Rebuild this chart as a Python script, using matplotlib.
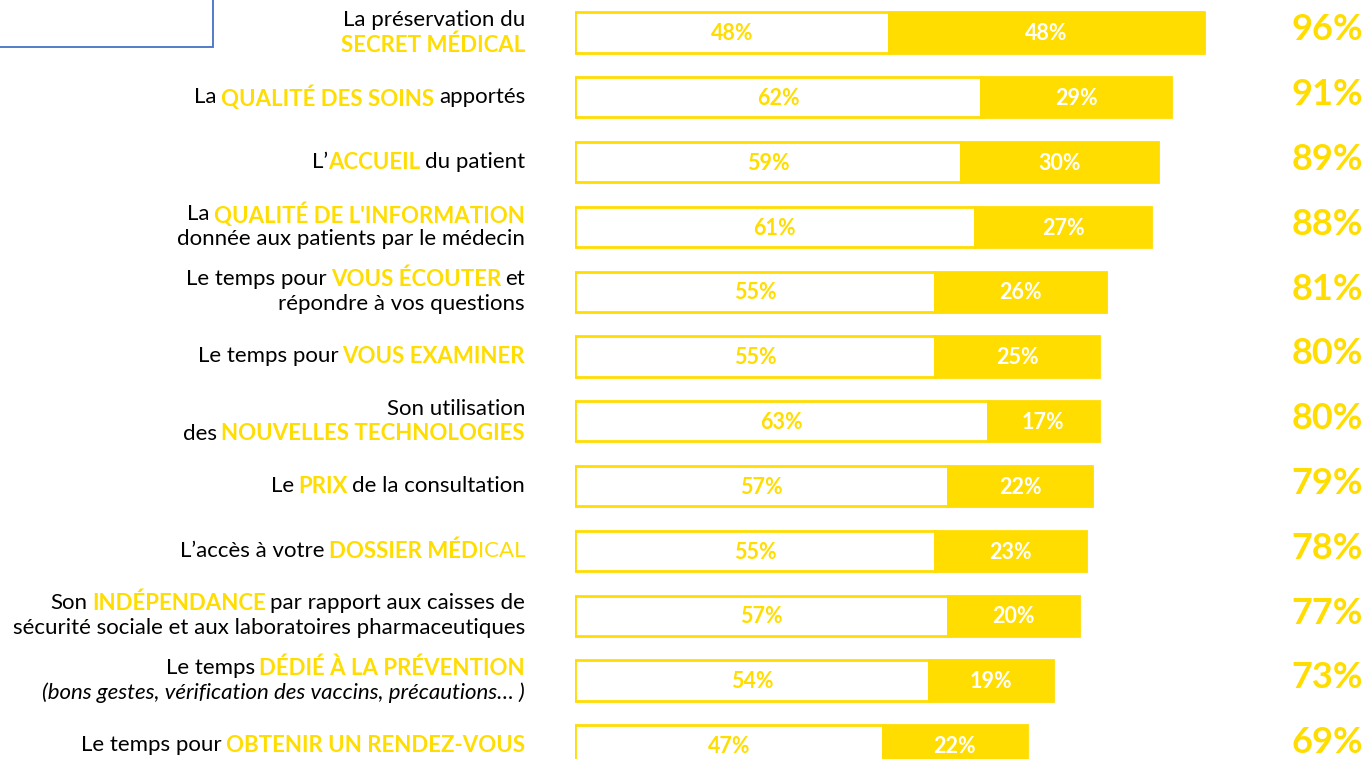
import matplotlib
matplotlib.use("Agg")
import matplotlib.pyplot as plt
from matplotlib.patches import Rectangle

YELLOW = "#FFDD00"
FONT = "Lato"
LABEL_SIZE = 16

# Data (percent)
first_part = [48, 62, 59, 61, 55, 55, 63, 57, 55, 57, 54, 47]
second_part = [48, 29, 30, 27, 26, 25, 17, 22, 23, 20, 19, 22]
totals = [96, 91, 89, 88, 81, 80, 80, 79, 78, 77, 73, 69]

# Each item: list of lines, each line: list of (text, style)
# style: "n" normal black, "y" yellow bold, "yn" yellow normal, "i" italic black
labels = [
    [[("La préservation du", "n")], [("SECRET MÉDICAL", "y")]],
    [[("La ", "n"), ("QUALITÉ DES SOINS", "y"), (" apportés", "n")]],
    [[("L’", "n"), ("ACCUEIL", "y"), (" du patient", "n")]],
    [[("La ", "n"), ("QUALITÉ DE L'INFORMATION", "y")],
     [("donnée aux patients par le médecin", "n")]],
    [[("Le temps pour ", "n"), ("VOUS ÉCOUTER", "y"), (" et", "n")],
     [("répondre à vos questions", "n")]],
    [[("Le temps pour ", "n"), ("VOUS EXAMINER", "y")]],
    [[("Son utilisation", "n")], [("des ", "n"), ("NOUVELLES TECHNOLOGIES", "y")]],
    [[("Le ", "n"), ("PRIX", "y"), (" de la consultation", "n")]],
    [[("L’accès à votre ", "n"), ("DOSSIER MÉD", "y"), ("ICAL", "yn")]],
    [[("Son ", "n"), ("INDÉPENDANCE", "y"), (" par rapport aux caisses de", "n")],
     [("sécurité sociale et aux laboratoires pharmaceutiques", "n")]],
    [[("Le temps ", "n"), ("DÉDIÉ À LA PRÉVENTION", "y")],
     [("(bons gestes, vérification des vaccins, précautions… )", "i")]],
    [[("Le temps pour ", "n"), ("OBTENIR UN RENDEZ-VOUS", "y")]],
]

W, H = 1372, 759
fig = plt.figure(figsize=(W / 100, H / 100), dpi=100)
fig.patch.set_facecolor("white")

row_h = 64.8
top_c = 32.5
ax = fig.add_axes([575 / W, 0, 655 / W, 1])
ax.set_xlim(0, 100)
ax.set_ylim((H - top_c) / row_h, -top_c / row_h)
ax.axis("off")

ys = list(range(len(totals)))
ax.barh(ys, first_part, height=0.62, color="white", edgecolor=YELLOW, linewidth=2)
ax.barh(ys, second_part, left=first_part, height=0.62, color=YELLOW,
        edgecolor=YELLOW, linewidth=2)

for y, a, b, t in zip(ys, first_part, second_part, totals):
    ax.text(a / 2, y + 0.02, f"{a}%", ha="center", va="center", color=YELLOW,
            fontsize=15.5, fontweight="bold", family=FONT)
    ax.text(a + b / 2, y + 0.02, f"{b}%", ha="center", va="center", color="white",
            fontsize=15.5, fontweight="bold", family=FONT)
    ax.annotate(f"{t}%", xy=(1363, y - 0.04), xycoords=("figure pixels", "data"),
                ha="right", va="center", color=YELLOW, fontsize=26,
                fontweight="bold", family=FONT)

# top-left box
fig.add_artist(Rectangle((-5 / W, (H - 47) / H), 218 / W, 60 / H,
                         transform=fig.transFigure, fill=False,
                         edgecolor="#4472C4", linewidth=1.3))

styles = {
    "n": dict(color="black", fontweight="normal", fontstyle="normal"),
    "y": dict(color=YELLOW, fontweight="bold", fontstyle="normal"),
    "yn": dict(color=YELLOW, fontweight="normal", fontstyle="normal"),
    "i": dict(color="black", fontweight="normal", fontstyle="italic"),
}

fig.canvas.draw()
renderer = fig.canvas.get_renderer()
probe = ax.text(0, 0, "a a", fontsize=LABEL_SIZE, family=FONT)
w2 = probe.get_window_extent(renderer).width
probe.set_text("aa")
space_w = 0.75 * (w2 - probe.get_window_extent(renderer).width)
probe.remove()

line_gap = 25 / row_h
for y, lines in zip(ys, labels):
    n = len(lines)
    for k, line in enumerate(lines):
        ly = y + (k - (n - 1) / 2) * line_gap
        x = 525
        for text, st in reversed(line):
            trail = text.endswith(" ")
            lead = text.startswith(" ")
            if trail:
                x -= space_w
            txt = ax.annotate(text.strip(), xy=(x, ly),
                              xycoords=("figure pixels", "data"),
                              ha="right", va="center", fontsize=LABEL_SIZE,
                              family=FONT, **styles[st])
            x -= txt.get_window_extent(renderer).width
            if lead:
                x -= space_w

fig.savefig("out.png", dpi=100, facecolor="white")
